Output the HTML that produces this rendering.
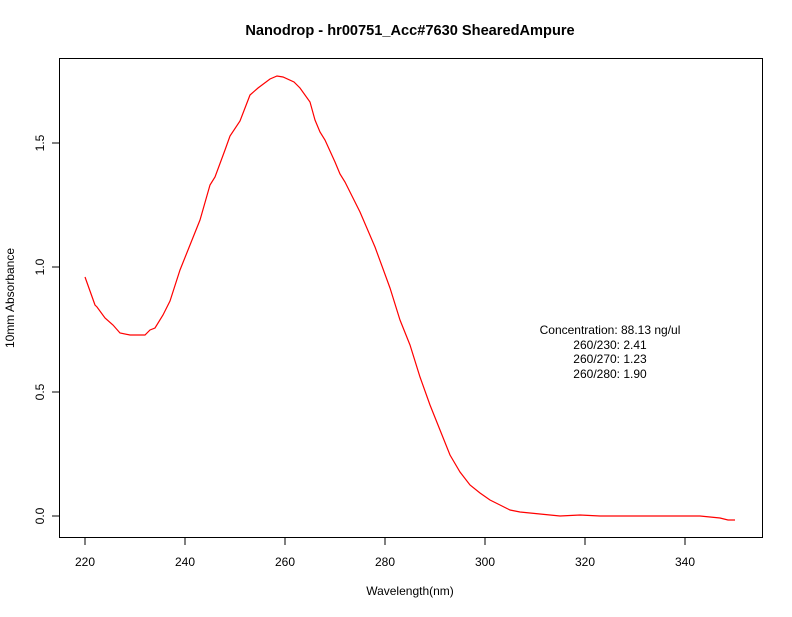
<!DOCTYPE html>
<html><head><meta charset="utf-8"><style>body{margin:0;background:#fff}</style></head><body>
<svg width="792" height="612" xmlns="http://www.w3.org/2000/svg" font-family="Liberation Sans, sans-serif">
<rect width="792" height="612" fill="#fff"/>
<text x="410" y="35" text-anchor="middle" font-size="14.6" font-weight="bold">Nanodrop - hr00751_Acc#7630 ShearedAmpure</text>
<rect x="59.5" y="58.5" width="703" height="479" fill="none" stroke="#000" stroke-width="1"/>
<g stroke="#000">
<line x1="85" y1="538" x2="85" y2="545"/><line x1="185" y1="538" x2="185" y2="545"/><line x1="285" y1="538" x2="285" y2="545"/><line x1="385" y1="538" x2="385" y2="545"/><line x1="485" y1="538" x2="485" y2="545"/><line x1="585" y1="538" x2="585" y2="545"/><line x1="685" y1="538" x2="685" y2="545"/>
<line x1="52" y1="516" x2="59" y2="516"/><line x1="52" y1="392" x2="59" y2="392"/><line x1="52" y1="267" x2="59" y2="267"/><line x1="52" y1="143" x2="59" y2="143"/>
</g>
<g font-size="12" text-anchor="middle">
<text x="85" y="566">220</text><text x="185" y="566">240</text><text x="285" y="566">260</text><text x="385" y="566">280</text><text x="485" y="566">300</text><text x="585" y="566">320</text><text x="685" y="566">340</text>
<text transform="translate(44,516) rotate(-90)">0.0</text>
<text transform="translate(44,392) rotate(-90)">0.5</text>
<text transform="translate(44,267) rotate(-90)">1.0</text>
<text transform="translate(44,143) rotate(-90)">1.5</text>
<text x="410" y="595">Wavelength(nm)</text>
<text transform="translate(14,298) rotate(-90)">10mm Absorbance</text>
</g>
<polyline fill="none" stroke="#f00" stroke-width="1.2" points="85,277 95,305 97,307 105,318 113,325 120,333 130,335 137,335 145,335 150,330 155,328 163,315 170,301 180,270 190,245 200,220 210,185 215,177 225,150 230,136 240,121 245,108 250,95 258,88 270,79 277,76 283,77 294,82 300,88 310,102 315,120 320,132 325,140 335,162 340,174 345,182 360,212 375,247 390,288 400,320 410,345 420,377 430,405 440,430 450,455 460,472 470,485 480,493 490,500 500,505 510,510 520,512 540,514 560,516 580,515 600,516 620,516 640,516 660,516 680,516 700,516 710,517 720,518 728,520 735,520"/>
<g font-size="12" text-anchor="middle">
<text x="610" y="334">Concentration: 88.13 ng/ul</text>
<text x="610" y="349">260/230: 2.41</text>
<text x="610" y="363">260/270: 1.23</text>
<text x="610" y="378">260/280: 1.90</text>
</g>
</svg>
</body></html>
